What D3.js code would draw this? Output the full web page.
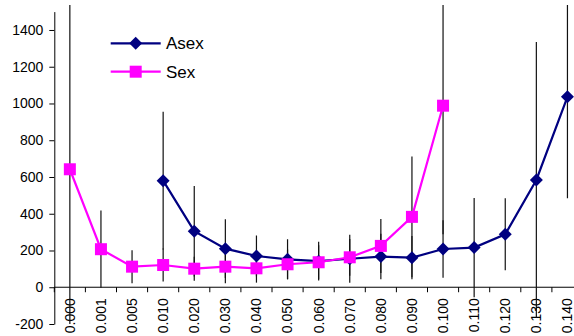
<!DOCTYPE html>
<html><head><meta charset="utf-8">
<script src="https://cdn.jsdelivr.net/npm/d3@7"></script>
<style>
html,body{margin:0;padding:0;background:#fff;}
svg{display:block;}
text{font-family:"Liberation Sans",Arial,sans-serif;fill:#000;}
</style></head>
<body>
<svg id="chart" width="574" height="336"></svg>
<script>
const categories = ["0.000","0.001","0.005","0.010","0.020","0.030","0.040","0.050","0.060","0.070","0.080","0.090","0.100","0.110","0.120","0.130","0.140"];
const asexValues = [null,null,null,580,305,210,170,152,142,155,167,161,208,216,288,584,1036];
const asexErr    = [null,null,null,375,246,160,111,109,105,130,124,118,156,270,196,750,552];
const sexValues  = [642,207,112,121,101,112,103,125,136,163,225,383,988,null,null,null,null];
const sexErr     = [1000,210,90,90,65,90,78,81,93,100,147,328,700,null,null,null,null];
const yTicks = [-200,0,200,400,600,800,1000,1200,1400];
const seriesNames = ["Asex","Sex"];

const svg = d3.select("#chart");
const left = 54.3, bw = 31.1;
const x = d3.scaleBand().domain(categories).range([left, left + bw*categories.length]).paddingInner(0).paddingOuter(0);
const y = d3.scaleLinear().domain([-200,1500]).range([324,11.6]);
const cx = c => x(c) + x.bandwidth()/2;

svg.append("defs").append("clipPath").attr("id","plot")
  .append("rect").attr("x",left).attr("y",5).attr("width",574-left).attr("height",324-5);

// Y axis
const yAxis = svg.append("g").attr("transform",`translate(${left},0)`)
  .call(d3.axisLeft(y).tickValues(yTicks).tickFormat(d=>String(d)).tickSize(5).tickSizeOuter(0).tickPadding(6));
yAxis.selectAll("path,line").attr("stroke","#000").attr("stroke-width",1);
yAxis.selectAll("text").style("font-size","14px").style("font-family","Liberation Sans, Arial, sans-serif");

// X axis at y=0
const y0 = y(0);
const xAxis = svg.append("g").attr("transform",`translate(0,${y0})`)
  .call(d3.axisBottom(x).tickSize(0).tickSizeOuter(0));
xAxis.select("path").attr("stroke","#000").attr("d",`M${left},0H574`);
xAxis.selectAll("text")
  .attr("transform","rotate(-90)")
  .attr("text-anchor","end")
  .attr("x",-11).attr("y",0).attr("dy","0.35em")
  .style("font-size","14px").style("font-family","Liberation Sans, Arial, sans-serif");
xAxis.selectAll(".xb").data(categories.map((c,i)=>i).concat([categories.length])).enter()
  .append("line").attr("class","xb")
  .attr("x1",i=>left+i*x.bandwidth()).attr("x2",i=>left+i*x.bandwidth())
  .attr("y1",0).attr("y2",5).attr("stroke","#000");

const plot = svg.append("g").attr("clip-path","url(#plot)");

function errData(vals, errs){
  return categories.map((c,i)=>({c, v:vals[i], e:errs[i]})).filter(d=>d.v!=null && d.e!=null);
}
// error bars
[[asexValues,asexErr],[sexValues,sexErr]].forEach(([v,e])=>{
  plot.selectAll(null).data(errData(v,e)).enter().append("line")
    .attr("x1",d=>cx(d.c)).attr("x2",d=>cx(d.c))
    .attr("y1",d=>y(d.v+d.e)).attr("y2",d=>y(d.v-d.e))
    .attr("stroke","#111").attr("stroke-width",1.2);
});

const line = d3.line().defined(d=>d.v!=null).x(d=>cx(d.c)).y(d=>y(d.v));
const asexPts = categories.map((c,i)=>({c,v:asexValues[i]}));
const sexPts = categories.map((c,i)=>({c,v:sexValues[i]}));

plot.append("path").datum(asexPts).attr("d",line).attr("fill","none").attr("stroke","#000080").attr("stroke-width",2.2);
plot.selectAll(null).data(asexPts.filter(d=>d.v!=null)).enter().append("path")
  .attr("transform",d=>`translate(${cx(d.c)},${y(d.v)})`)
  .attr("d","M0,-6.5L6.5,0L0,6.5L-6.5,0Z").attr("fill","#000080");

plot.append("path").datum(sexPts).attr("d",line).attr("fill","none").attr("stroke","#FF00FF").attr("stroke-width",2.2);
plot.selectAll(null).data(sexPts.filter(d=>d.v!=null)).enter().append("rect")
  .attr("x",d=>cx(d.c)-6).attr("y",d=>y(d.v)-6).attr("width",12).attr("height",12).attr("fill","#FF00FF");

// legend
const leg = svg.append("g");
const legColors = ["#000080","#FF00FF"];
seriesNames.forEach((n,i)=>{
  const ly = 43.3 + i*28.4;
  leg.append("line").attr("x1",110.7).attr("x2",160.7).attr("y1",ly).attr("y2",ly).attr("stroke",legColors[i]).attr("stroke-width",2.2);
  if(i===0) leg.append("path").attr("transform",`translate(135.7,${ly})`).attr("d","M0,-6.5L6.5,0L0,6.5L-6.5,0Z").attr("fill",legColors[i]);
  else leg.append("rect").attr("x",129.7).attr("y",ly-6).attr("width",12).attr("height",12).attr("fill",legColors[i]);
  leg.append("text").attr("x",166).attr("y",ly+6).style("font-size","17px").text(n);
});
</script>
</body></html>
